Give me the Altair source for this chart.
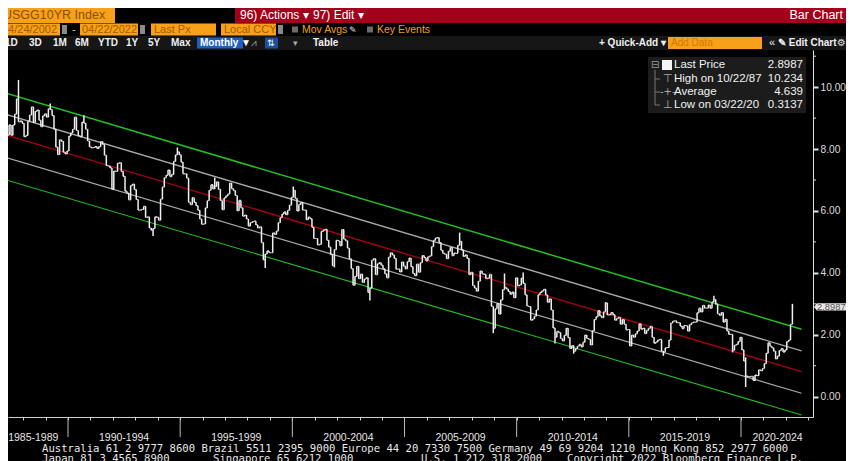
import altair as alt
import pandas as pd

# ---------------- data (month-end USGG10YR) ----------------
c1987 = [7.08, 7.25, 7.52, 8.45, 8.78, 8.45, 8.78, 9.13, 9.62, 8.88, 8.91, 8.83]
c1988 = [8.40, 8.44, 8.90, 9.10, 9.36, 8.86, 9.22, 9.26, 8.93, 8.72, 9.07, 9.14]
c1989 = [9.03, 9.30, 9.28, 9.08, 8.64, 8.06, 7.82, 8.30, 8.25, 7.90, 7.84, 7.94]
c1990 = [8.42, 8.52, 8.64, 9.03, 8.60, 8.43, 8.40, 8.87, 8.83, 8.64, 8.26, 8.07]
c1991 = [8.04, 8.05, 8.08, 8.02, 8.08, 8.24, 8.15, 7.80, 7.46, 7.45, 7.39, 6.70]
c1992 = [7.29, 7.28, 7.54, 7.56, 7.28, 7.12, 6.64, 6.58, 6.36, 6.82, 6.87, 6.69]
c1993 = [6.37, 6.03, 6.03, 6.05, 6.15, 5.79, 5.81, 5.45, 5.38, 5.43, 5.81, 5.79]
c1994 = [5.70, 6.38, 6.77, 7.07, 7.15, 7.32, 7.11, 7.18, 7.60, 7.81, 7.91, 7.82]
c1995 = [7.58, 7.20, 7.20, 7.06, 6.28, 6.20, 6.43, 6.28, 6.17, 6.02, 5.74, 5.57]
c1996 = [5.58, 6.10, 6.33, 6.67, 6.85, 6.71, 6.79, 6.94, 6.70, 6.34, 6.04, 6.42]
c1997 = [6.49, 6.55, 6.90, 6.72, 6.66, 6.50, 6.01, 6.34, 6.10, 5.83, 5.87, 5.74]
c1998 = [5.51, 5.62, 5.65, 5.67, 5.55, 5.45, 5.49, 4.98, 4.42, 4.61, 4.71, 4.65]
c1999 = [4.65, 5.29, 5.24, 5.35, 5.62, 5.78, 5.90, 5.97, 5.88, 6.02, 6.19, 6.44]
c2000 = [6.67, 6.41, 6.00, 6.21, 6.27, 6.03, 6.03, 5.72, 5.80, 5.75, 5.47, 5.11]
c2001 = [5.11, 4.90, 4.92, 5.34, 5.38, 5.41, 5.05, 4.83, 4.59, 4.23, 4.75, 5.05]
c2002 = [5.03, 4.88, 5.40, 5.09, 5.04, 4.80, 4.46, 4.14, 3.60, 3.89, 4.21, 3.81]
c2003 = [3.96, 3.69, 3.80, 3.84, 3.37, 3.51, 4.41, 4.46, 3.94, 4.29, 4.33, 4.25]
c2004 = [4.13, 3.97, 3.84, 4.51, 4.65, 4.58, 4.47, 4.12, 4.12, 4.03, 4.35, 4.22]
c2005 = [4.13, 4.36, 4.48, 4.20, 3.98, 3.91, 4.28, 4.02, 4.33, 4.56, 4.49, 4.39]
c2006 = [4.52, 4.55, 4.85, 5.05, 5.12, 5.14, 4.98, 4.73, 4.63, 4.60, 4.46, 4.70]
c2007 = [4.82, 4.56, 4.64, 4.63, 4.89, 5.02, 4.74, 4.53, 4.58, 4.47, 3.94, 4.02]
c2008 = [3.59, 3.51, 3.41, 3.73, 4.06, 3.97, 3.95, 3.81, 3.83, 3.95, 2.92, 2.21]
c2009 = [2.84, 3.01, 2.67, 3.13, 3.46, 3.53, 3.48, 3.40, 3.31, 3.38, 3.20, 3.84]
c2010 = [3.58, 3.61, 3.83, 3.66, 3.29, 2.93, 2.91, 2.47, 2.51, 2.60, 2.80, 3.29]
c2011 = [3.37, 3.42, 3.47, 3.29, 3.05, 3.16, 2.80, 2.22, 1.92, 2.11, 2.07, 1.88]
c2012 = [1.80, 1.98, 2.21, 1.91, 1.56, 1.65, 1.47, 1.55, 1.63, 1.69, 1.61, 1.76]
c2013 = [1.99, 1.88, 1.85, 1.67, 2.13, 2.49, 2.58, 2.78, 2.61, 2.55, 2.74, 3.03]
c2014 = [2.64, 2.65, 2.72, 2.65, 2.47, 2.53, 2.56, 2.34, 2.49, 2.34, 2.16, 2.17]
c2015 = [1.64, 1.99, 1.92, 2.03, 2.12, 2.35, 2.18, 2.21, 2.04, 2.14, 2.21, 2.27]
c2016 = [1.92, 1.73, 1.77, 1.83, 1.85, 1.47, 1.45, 1.58, 1.59, 1.83, 2.38, 2.44]
c2017 = [2.45, 2.39, 2.39, 2.28, 2.20, 2.30, 2.29, 2.12, 2.33, 2.38, 2.41, 2.41]
c2018 = [2.71, 2.86, 2.74, 2.95, 2.86, 2.86, 2.96, 2.86, 3.06, 3.14, 2.99, 2.68]
c2019 = [2.63, 2.72, 2.41, 2.50, 2.12, 2.01, 2.01, 1.50, 1.66, 1.69, 1.78, 1.92]
c2020 = [1.51, 1.15, 0.67, 0.64, 0.65, 0.66, 0.53, 0.70, 0.68, 0.87, 0.84, 0.91]
c2021 = [1.07, 1.40, 1.74, 1.63, 1.58, 1.47, 1.22, 1.31, 1.49, 1.55, 1.44, 1.51]
c2022 = [1.78, 1.83, 2.34, 2.8987]
first_open = 7.20

# intramonth extremes visible as spikes
hi_months = ["1987-10", "1989-03", "1990-09", "1994-11", "1996-07", "2000-01", "2007-06",
             "2009-06", "2010-04", "2013-12", "2018-10", "2020-03", "2022-04"]
hi_values = [10.234, 9.47, 9.09, 8.05, 7.08, 6.79, 5.30, 3.98, 4.01, 3.05, 3.26, 1.27, 3.00]
lo_months = ["1993-10", "1998-10", "2001-11", "2003-06", "2008-12", "2011-09", "2012-07",
             "2016-07", "2019-08", "2020-03", "2020-08"]
lo_values = [5.19, 4.16, 4.18, 3.11, 2.05, 1.72, 1.39, 1.32, 1.43, 0.3137, 0.51]

# trend channel endpoints (start 1986.97, end 2022.7)
chan_names = ["up2", "up1", "mid", "lo1", "lo2"]
chan_start = [9.86, 9.18, 8.51, 7.78, 7.06]
chan_end = [2.18, 1.48, 0.81, 0.11, -0.59]
chan_t0, chan_t1 = 1986.97, 2022.70

y_ticks = [0, 2, 4, 6, 8, 10]
y_minor = [1, 3, 5, 7, 9, 11]
x_year_ticks = list(range(1988, 2024))
sep_years = [1990, 1995, 2000, 2005, 2010, 2015, 2020]
period_labels = ["1985-1989", "1990-1994", "1995-1999", "2000-2004", "2005-2009",
                 "2010-2014", "2015-2019", "2020-2024"]
period_centers = [1988.45, 1992.5, 1997.5, 2002.5, 2007.5, 2012.5, 2017.5, 2021.63]

last_price = 2.8987

# ---------------- build tables ----------------
yearly = [c1987, c1988, c1989, c1990, c1991, c1992, c1993, c1994, c1995, c1996, c1997,
          c1998, c1999, c2000, c2001, c2002, c2003, c2004, c2005, c2006, c2007, c2008,
          c2009, c2010, c2011, c2012, c2013, c2014, c2015, c2016, c2017, c2018, c2019,
          c2020, c2021, c2022]
hi_map = dict(zip(hi_months, hi_values))
lo_map = dict(zip(lo_months, lo_values))
rows = []
prev = first_open
for i, vals in enumerate(yearly):
    yr = 1987 + i
    for m, c in enumerate(vals):
        key = f"{yr}-{m + 1:02d}"
        hi = max(prev, c, hi_map.get(key, -99))
        lo = min(prev, c, lo_map.get(key, 99))
        t = yr + (m + 0.5) / 12
        rows.append({"t": t, "tl": t - 0.45 / 12, "tr": t + 0.45 / 12,
                     "open": prev, "close": c, "high": hi, "low": lo})
        prev = c
ohlc = pd.DataFrame(rows)

chan = pd.DataFrame(
    [{"t": chan_t0, "v": s, "name": n} for n, s in zip(chan_names, chan_start)]
    + [{"t": chan_t1, "v": e, "name": n} for n, e in zip(chan_names, chan_end)]
)

W, H = 805, 367
xs = alt.Scale(domain=[1987.325, 2023.21], nice=False, zero=False)
ys = alt.Scale(domain=[-0.656, 11.2], nice=False, zero=False)
SANS = "Liberation Sans, Arial, sans-serif"
MONO = "DejaVu Sans Mono, monospace"

XAX = alt.Axis(orient="bottom", values=x_year_ticks, labels=False, tickSize=3,
               tickColor="#cfcfcf", domainColor="#cfcfcf", grid=False, title=None)
YAX = alt.Axis(orient="right", values=y_ticks, format=".2f", tickSize=5, tickWidth=2,
               tickColor="#e0e0e0", domainColor="#e0e0e0", labelColor="#dcdcdc",
               labelFontSize=10.2, labelFont=SANS, labelPadding=2, grid=False, title=None)

layers = []

# channel lines
layers.append(
    alt.Chart(chan).mark_line(clip=True).encode(
        x=alt.X("t:Q", scale=xs, axis=XAX),
        y=alt.Y("v:Q", scale=ys, axis=YAX),
        detail="name:N",
        color=alt.Color("name:N", legend=None,
                        scale=alt.Scale(domain=chan_names,
                                        range=["#22c022", "#a8a8a8", "#b00010", "#a8a8a8", "#22c022"])),
        strokeWidth=alt.StrokeWidth("name:N", legend=None,
                                    scale=alt.Scale(domain=chan_names, range=[1.5, 1.1, 3.2, 1.1, 1.5])),
    )
)

# price bars (monthly high-low) with open/close ticks
BAR = "#f0f0f0"
layers.append(
    alt.Chart(ohlc).mark_rule(color=BAR, strokeWidth=1.5, clip=True).encode(
        x=alt.X("t:Q", scale=xs, axis=XAX),
        y=alt.Y("low:Q", scale=ys, axis=YAX),
        y2="high:Q",
    )
)
layers.append(
    alt.Chart(ohlc).mark_rule(color=BAR, strokeWidth=1.2, clip=True).encode(
        x=alt.X("tl:Q", scale=xs, axis=XAX), x2="t:Q",
        y=alt.Y("open:Q", scale=ys, axis=YAX),
    )
)
layers.append(
    alt.Chart(ohlc).mark_rule(color=BAR, strokeWidth=1.2, clip=True).encode(
        x=alt.X("t:Q", scale=xs, axis=XAX), x2="tr:Q",
        y=alt.Y("close:Q", scale=ys, axis=YAX),
    )
)

# minor y ticks
layers.append(
    alt.Chart(pd.DataFrame({"v": y_minor})).mark_rule(color="#e0e0e0").encode(
        y=alt.Y("v:Q", scale=ys, axis=YAX), x=alt.value(W), x2=alt.value(W + 3))
)

# 5-year separators and labels
layers.append(
    alt.Chart(pd.DataFrame({"yr": sep_years})).mark_rule(color="#bdbdbd").encode(
        x=alt.X("yr:Q", scale=xs, axis=XAX), y=alt.value(H), y2=alt.value(H + 20))
)
layers.append(
    alt.Chart(pd.DataFrame({"c": period_centers, "lab": period_labels})).mark_text(
        font=SANS, fontSize=10.5, color="#e6e6e6", align="center", baseline="middle").encode(
        x=alt.X("c:Q", scale=xs, axis=XAX), y=alt.value(H + 20.5), text="lab:N")
)

# last price tag
tag_path = "M-1,0 L-0.86,-0.18 L1,-0.18 L1,0.18 L-0.86,0.18 Z"
lp = pd.DataFrame({"v": [last_price], "s": [f"{last_price:.4f}"]})
layers.append(
    alt.Chart(lp).mark_point(shape=tag_path, filled=True, fill="#e8e8e8", opacity=1, size=1600,
                             strokeWidth=0).encode(
        y=alt.Y("v:Q", scale=ys, axis=YAX), x=alt.value(W + 21))
)
layers.append(
    alt.Chart(lp).mark_text(font=SANS, fontSize=9.4, color="#555555", align="left",
                            baseline="middle").encode(
        y=alt.Y("v:Q", scale=ys, axis=YAX), x=alt.value(W + 4), text="s:N")
)

one = pd.DataFrame({"k": [0]})


def rect(x1, x2, y1, y2, fill):
    return alt.Chart(one).mark_rect(color=fill).encode(
        x=alt.value(x1), x2=alt.value(x2), y=alt.value(y1), y2=alt.value(y2))


def txt(s, x, y, size=11.0, color="#ffffff", font=SANS, align="left", weight="normal"):
    return alt.Chart(one).mark_text(text=s, font=font, fontSize=size, color=color, align=align,
                                    baseline="middle", fontWeight=weight).encode(
        x=alt.value(x), y=alt.value(y))


def hline(x1, x2, y, color, w=1.0):
    return alt.Chart(one).mark_rule(color=color, strokeWidth=w).encode(
        x=alt.value(x1), x2=alt.value(x2), y=alt.value(y))


def vline(x, y1, y2, color, w=1.0):
    return alt.Chart(one).mark_rule(color=color, strokeWidth=w).encode(
        x=alt.value(x), y=alt.value(y1), y2=alt.value(y2))


ORANGE = "#f7a11a"
ORTXT = "#a85a00"

# ---- legend box ----
layers += [
    rect(640, 798, 7, 63, "#1c1c1c"),
    txt("⊟", 643, 15, 10, "#9a9a9a", "DejaVu Sans"),
    rect(654, 664, 10, 20, "#f5f5f5"),
    vline(647, 20, 55, "#777777"),
    hline(647, 652, 29, "#777777"), hline(647, 652, 42, "#777777"), hline(647, 652, 55, "#777777"),
    txt("⊤", 655, 29, 11, "#aaaaaa", "DejaVu Sans"),
    txt("-+-", 652, 42, 10, "#aaaaaa", "DejaVu Sans"),
    txt("⊥", 655, 55, 11, "#aaaaaa", "DejaVu Sans"),
    txt("Last Price", 666, 15, 11.5, "#f2f2f2"),
    txt("High on 10/22/87", 666, 29, 11.5, "#f2f2f2"),
    txt("Average", 666, 42, 11.5, "#f2f2f2"),
    txt("Low on 03/22/20", 666, 55, 11.5, "#f2f2f2"),
    txt("2.8987", 795, 15, 11.5, "#f2f2f2", align="right"),
    txt("10.234", 795, 29, 11.5, "#f2f2f2", align="right"),
    txt("4.639", 795, 42, 11.5, "#f2f2f2", align="right"),
    txt("0.3137", 795, 55, 11.5, "#f2f2f2", align="right"),
]

# ---- header row 1 ----
R1 = -35.5
layers += [
    rect(-8, 107, -47, -27, ORANGE),
    txt("USGG10YR Index", -5, R1, 12.5, "#8a4f00"),
    rect(227, 846, -47, -27, "#a3001b"),
    txt("96) Actions ▾", 232, R1, 12, "#ffffff"),
    txt("97) Edit ▾", 305, R1, 12, "#ffffff"),
    txt("Bar Chart", 835, R1, 12.5, "#ffffff", align="right"),
]
# ---- header row 2 ----
R2 = -20.5
layers += [
    rect(-8, 52, -26.5, -14.5, ORANGE), txt("04/24/2002", -6, R2, 11, ORTXT),
    rect(54, 59, -25, -16, "#8a8a8a"),
    txt("-", 64, R2, 11, "#cccccc"),
    rect(72, 130, -26.5, -14.5, ORANGE), txt("04/22/2022", 74, R2, 11, ORTXT),
    rect(132, 137, -25, -16, "#8a8a8a"),
    rect(143, 208, -26.5, -14.5, ORANGE), txt("Last Px", 146, R2, 11, ORTXT),
    rect(213, 268, -26.5, -14.5, ORANGE), txt("Local CCY", 216, R2, 11, ORTXT),
    rect(270, 275, -25, -16, "#8a8a8a"),
    rect(284, 290, -23.5, -17.5, "#6b6b6b"),
    txt("Mov Avgs", 294, R2, 10.5, "#f0a00c"),
    txt("✎", 341, R2, 9, "#e0e0e0", "DejaVu Sans"),
    rect(359, 365, -23.5, -17.5, "#6b6b6b"),
    txt("Key Events", 369, R2, 10.5, "#f0a00c"),
]
# ---- header row 3 ----
R3 = -7
layers += [rect(-8, 846, -14, 0, "#161616")]
for lab, xx in [("1D", -3), ("3D", 21), ("1M", 45), ("6M", 67), ("YTD", 90), ("1Y", 118),
                ("5Y", 140), ("Max", 163)]:
    layers.append(txt(lab, xx, R3, 10, "#f0f0f0", weight="bold"))
layers += [
    rect(189, 235, -12.5, -1.5, "#1f5fbf"),
    txt("Monthly ▼", 192, R3, 10, "#ffffff", weight="bold"),
    txt("⩘", 243, R3, 10, "#9a9a9a", "DejaVu Sans"),
    rect(257, 270, -12.5, -1.5, "#1a4f9c"),
    txt("⇅", 259, R3, 9, "#ffffff", "DejaVu Sans"),
    txt("▾", 285, R3, 9, "#aaaaaa", "DejaVu Sans"),
    txt("Table", 305, R3, 10, "#f0f0f0", weight="bold"),
    txt("+ Quick-Add ▾", 591, R3, 10, "#f0f0f0", weight="bold"),
    rect(660, 754, -13, -1, ORANGE),
    txt("Add Data", 663, R3, 10, "#d07a00"),
    txt("«", 761, R3, 11, "#f0f0f0"),
    txt("✎ Edit Chart", 770, R3, 10, "#f0f0f0", weight="bold"),
    txt("⚙", 829, R3, 10, "#e0e0e0", "DejaVu Sans"),
]

# ---- footer ----
FS = 10.6
layers += [
    txt("Australia 61 2 9777 8600 Brazil 5511 2395 9000 Europe 44 20 7330 7500 Germany 49 69 9204 1210 Hong Kong 852 2977 6000",
        34, 398.5, FS, "#e8e8e8", MONO),
    txt("Japan 81 3 4565 8900", 34, 408.5, FS, "#e8e8e8", MONO),
    txt("Singapore 65 6212 1000", 205, 408.5, FS, "#e8e8e8", MONO),
    txt("U.S. 1 212 318 2000", 413, 408.5, FS, "#e8e8e8", MONO),
    txt("Copyright 2022 Bloomberg Finance L.P.", 559, 408.5, FS, "#e8e8e8", MONO),
]

chart = alt.layer(*layers).properties(
    width=W, height=H,
    padding={"left": 0, "top": 42, "right": 33, "bottom": 44},
    autosize=alt.AutoSizeParams(type="none"),
    background="#000000",
).configure_view(stroke=None)

chart.save("out.html", embed_options={"renderer": "svg", "actions": False})
